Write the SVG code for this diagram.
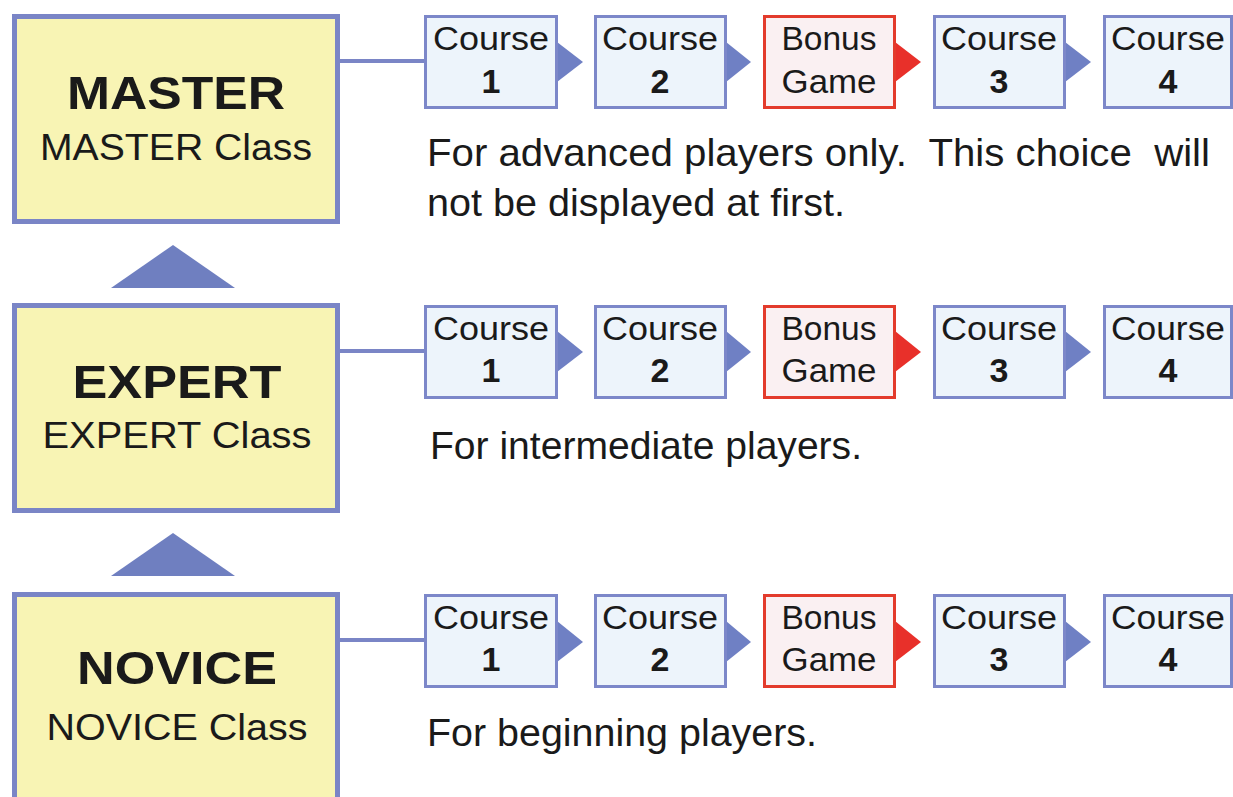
<svg xmlns="http://www.w3.org/2000/svg" width="1233" height="797" viewBox="0 0 1233 797">
<style>
text{font-family:"Liberation Sans",Arial,sans-serif;fill:#1a1a1a}
.cls{fill:#f8f4b4;stroke:#7a85c6;stroke-width:5}
.crs{fill:#edf4fb;stroke:#7c87c9;stroke-width:3}
.bon{fill:#faf0f2;stroke:#e33b2c;stroke-width:3}
.t1{font-size:47px;font-weight:bold;text-anchor:middle}
.t2{font-size:36px;text-anchor:middle}
.c{font-size:34px;text-anchor:middle}
.n{font-size:34px;font-weight:bold;text-anchor:middle}
.d{font-size:39px;white-space:pre}
.ab{fill:#6f80c4}
.ar{fill:#e8302a}
.up{fill:#6f7fc0}
.ln{stroke:#7a85c6;stroke-width:4;fill:none}
</style>
<rect width="1233" height="797" fill="#ffffff"/>

<g id="connectors">
<line class="ln" x1="340" y1="61" x2="425" y2="61"/>
<line class="ln" x1="340" y1="351" x2="425" y2="351"/>
<line class="ln" x1="340" y1="640" x2="425" y2="640"/>
<polygon class="up" points="173,245 235,288 111,288"/>
<polygon class="up" points="173,533 235,576 111,576"/>
<polygon class="ab" points="557,42 583,62 557,82"/>
<polygon class="ab" points="726,42 751,62 726,82"/>
<polygon class="ar" points="895,42 921,62 895,82"/>
<polygon class="ab" points="1065,42 1091,62 1065,82"/>
<polygon class="ab" points="557,331 583,352 557,372"/>
<polygon class="ab" points="726,331 751,352 726,372"/>
<polygon class="ar" points="895,331 921,352 895,372"/>
<polygon class="ab" points="1065,331 1091,352 1065,372"/>
<polygon class="ab" points="557,621 583,642 557,662"/>
<polygon class="ab" points="726,621 751,642 726,662"/>
<polygon class="ar" points="895,621 921,642 895,662"/>
<polygon class="ab" points="1065,621 1091,642 1065,662"/>
</g>

<g id="master">
<rect class="cls" x="14.5" y="16.5" width="323" height="205"/>
<text class="t1" x="176" y="109" textLength="218" lengthAdjust="spacingAndGlyphs">MASTER</text>
<text class="t2" x="176" y="160" textLength="272" lengthAdjust="spacingAndGlyphs">MASTER Class</text>
</g>
<g id="expert">
<rect class="cls" x="14.5" y="305.5" width="323" height="205"/>
<text class="t1" x="177" y="398" textLength="209" lengthAdjust="spacingAndGlyphs">EXPERT</text>
<text class="t2" x="177" y="448" textLength="269" lengthAdjust="spacingAndGlyphs">EXPERT Class</text>
</g>
<g id="novice">
<rect class="cls" x="14.5" y="594.5" width="323" height="230"/>
<text class="t1" x="177" y="684" textLength="200" lengthAdjust="spacingAndGlyphs">NOVICE</text>
<text class="t2" x="177" y="740" textLength="261" lengthAdjust="spacingAndGlyphs">NOVICE Class</text>
</g>

<g id="m-c1"><rect class="crs" x="425.5" y="16.5" width="131" height="91"/><text class="c" x="491" y="50" textLength="116" lengthAdjust="spacingAndGlyphs">Course</text><text class="n" x="491" y="93">1</text></g>
<g id="m-c2"><rect class="crs" x="595.5" y="16.5" width="130" height="91"/><text class="c" x="660" y="50" textLength="116" lengthAdjust="spacingAndGlyphs">Course</text><text class="n" x="660" y="93">2</text></g>
<g id="m-bonus"><rect class="bon" x="764.5" y="16.5" width="130" height="91"/><text class="c" x="829" y="50" textLength="95" lengthAdjust="spacingAndGlyphs">Bonus</text><text class="c" x="829" y="93" textLength="95" lengthAdjust="spacingAndGlyphs">Game</text></g>
<g id="m-c3"><rect class="crs" x="934.5" y="16.5" width="130" height="91"/><text class="c" x="999" y="50" textLength="116" lengthAdjust="spacingAndGlyphs">Course</text><text class="n" x="999" y="93">3</text></g>
<g id="m-c4"><rect class="crs" x="1104.5" y="16.5" width="127" height="91"/><text class="c" x="1168" y="50" textLength="114" lengthAdjust="spacingAndGlyphs">Course</text><text class="n" x="1168" y="93">4</text></g>
<g id="m-desc">
<text class="d" x="427" y="166" textLength="783" lengthAdjust="spacingAndGlyphs" xml:space="preserve">For advanced players only.  This choice  will</text>
<text class="d" x="427" y="216" textLength="418" lengthAdjust="spacingAndGlyphs">not be displayed at first.</text>
</g>

<g id="e-c1"><rect class="crs" x="425.5" y="306.5" width="131" height="91"/><text class="c" x="491" y="340" textLength="116" lengthAdjust="spacingAndGlyphs">Course</text><text class="n" x="491" y="382">1</text></g>
<g id="e-c2"><rect class="crs" x="595.5" y="306.5" width="130" height="91"/><text class="c" x="660" y="340" textLength="116" lengthAdjust="spacingAndGlyphs">Course</text><text class="n" x="660" y="382">2</text></g>
<g id="e-bonus"><rect class="bon" x="764.5" y="306.5" width="130" height="91"/><text class="c" x="829" y="340" textLength="95" lengthAdjust="spacingAndGlyphs">Bonus</text><text class="c" x="829" y="382" textLength="95" lengthAdjust="spacingAndGlyphs">Game</text></g>
<g id="e-c3"><rect class="crs" x="934.5" y="306.5" width="130" height="91"/><text class="c" x="999" y="340" textLength="116" lengthAdjust="spacingAndGlyphs">Course</text><text class="n" x="999" y="382">3</text></g>
<g id="e-c4"><rect class="crs" x="1104.5" y="306.5" width="127" height="91"/><text class="c" x="1168" y="340" textLength="114" lengthAdjust="spacingAndGlyphs">Course</text><text class="n" x="1168" y="382">4</text></g>
<g id="e-desc">
<text class="d" x="430" y="459" textLength="432" lengthAdjust="spacingAndGlyphs">For intermediate players.</text>
</g>

<g id="n-c1"><rect class="crs" x="425.5" y="595.5" width="131" height="91"/><text class="c" x="491" y="629" textLength="116" lengthAdjust="spacingAndGlyphs">Course</text><text class="n" x="491" y="671">1</text></g>
<g id="n-c2"><rect class="crs" x="595.5" y="595.5" width="130" height="91"/><text class="c" x="660" y="629" textLength="116" lengthAdjust="spacingAndGlyphs">Course</text><text class="n" x="660" y="671">2</text></g>
<g id="n-bonus"><rect class="bon" x="764.5" y="595.5" width="130" height="91"/><text class="c" x="829" y="629" textLength="95" lengthAdjust="spacingAndGlyphs">Bonus</text><text class="c" x="829" y="671" textLength="95" lengthAdjust="spacingAndGlyphs">Game</text></g>
<g id="n-c3"><rect class="crs" x="934.5" y="595.5" width="130" height="91"/><text class="c" x="999" y="629" textLength="116" lengthAdjust="spacingAndGlyphs">Course</text><text class="n" x="999" y="671">3</text></g>
<g id="n-c4"><rect class="crs" x="1104.5" y="595.5" width="127" height="91"/><text class="c" x="1168" y="629" textLength="114" lengthAdjust="spacingAndGlyphs">Course</text><text class="n" x="1168" y="671">4</text></g>
<g id="n-desc">
<text class="d" x="427" y="746" textLength="390" lengthAdjust="spacingAndGlyphs">For beginning players.</text>
</g>
</svg>
